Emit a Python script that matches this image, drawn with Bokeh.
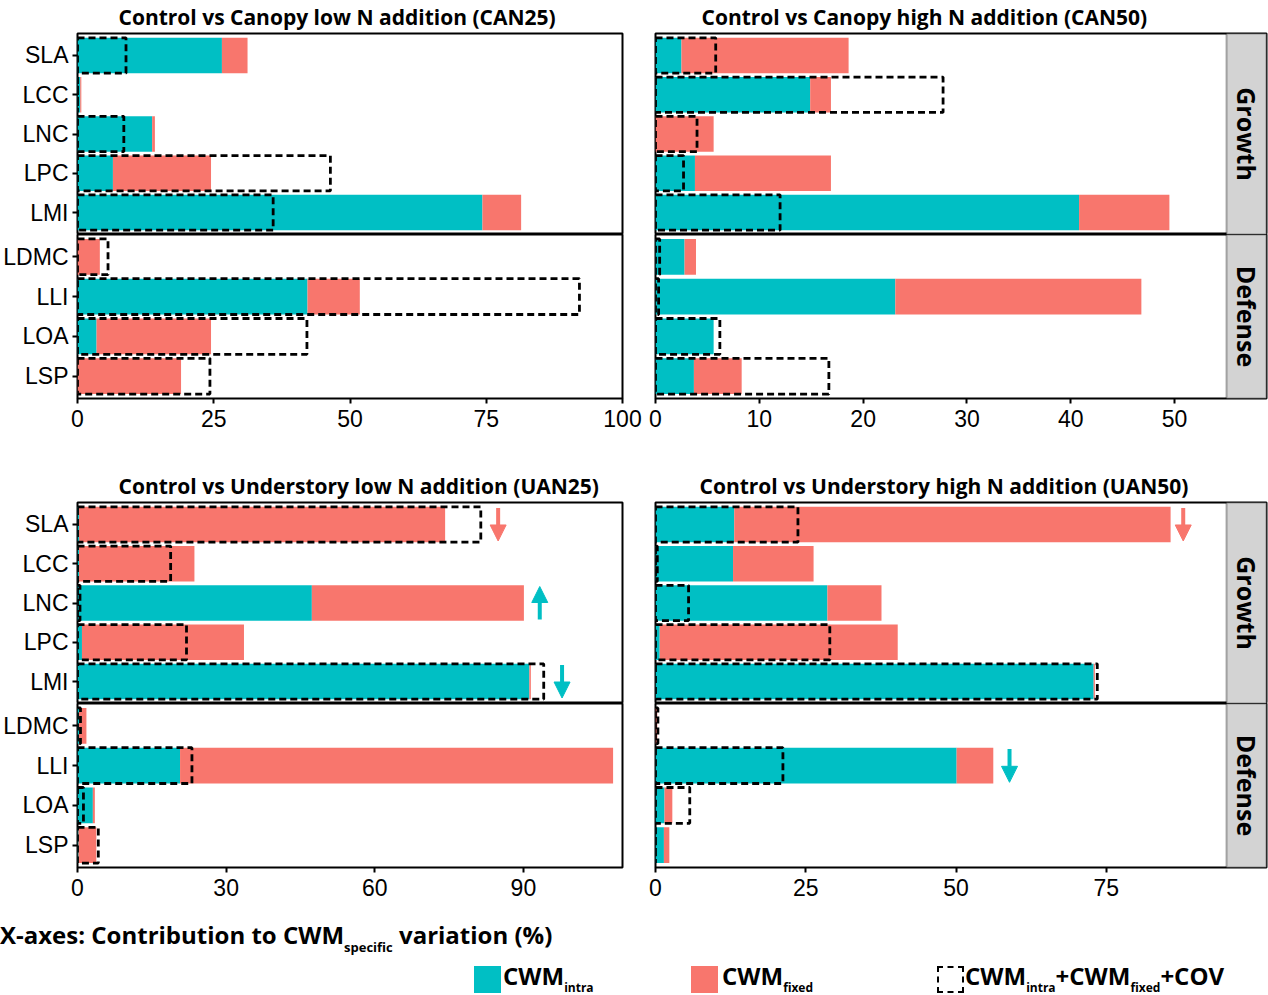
import math
import pandas as pd
from bokeh.plotting import figure
from bokeh.models import (ColumnDataSource, FactorRange, Range1d, FixedTicker,
                          BoxAnnotation, Label, Arrow, NormalHead, Div)
from bokeh.layouts import column, row
from bokeh.transform import dodge
from bokeh.embed import file_html
from bokeh.resources import INLINE

# ---------------- data ----------------
growth_traits = ["SLA", "LCC", "LNC", "LPC", "LMI"]
defense_traits = ["LDMC", "LLI", "LOA", "LSP"]
traits = growth_traits + defense_traits
groups = ["Growth"] * len(growth_traits) + ["Defense"] * len(defense_traits)

panel_keys = ["CAN25", "CAN50", "UAN25", "UAN50"]
panel_titles = ["Control vs Canopy low N addition (CAN25)",
                "Control vs Canopy high N addition (CAN50)",
                "Control vs Understory low N addition (UAN25)",
                "Control vs Understory high N addition (UAN50)"]
x_limits = [100, 55, 110, 95]
x_ticks = [[0, 25, 50, 75, 100], [0, 10, 20, 30, 40, 50], [0, 30, 60, 90], [0, 25, 50, 75]]

# contributions (%) in order: SLA LCC LNC LPC LMI | LDMC LLI LOA LSP
can25_intra = [26.5, 0.5, 13.7, 6.5, 74.3, 0.0, 42.2, 3.5, 0.0]
can25_fixed = [4.7, 0.2, 0.5, 18.0, 7.1, 4.1, 9.6, 21.0, 19.0]
can25_total = [8.9, 0.0, 8.5, 46.4, 35.9, 5.6, 92.1, 42.1, 24.3]

can50_intra = [2.5, 14.9, 0.0, 3.8, 40.8, 2.8, 23.1, 5.6, 3.7]
can50_fixed = [16.1, 2.0, 5.6, 13.1, 8.7, 1.1, 23.7, 0.0, 4.6]
can50_total = [5.8, 27.7, 4.0, 2.7, 12.0, 0.4, 0.3, 6.2, 16.7]

uan25_intra = [0.3, 0.3, 47.3, 0.9, 91.2, 0.3, 20.7, 3.1, 0.2]
uan25_fixed = [73.9, 23.3, 42.8, 32.7, 0.3, 1.5, 87.4, 0.4, 3.6]
uan25_total = [81.4, 18.8, 0.5, 22.0, 94.1, 0.6, 23.1, 1.2, 4.2]

uan50_intra = [13.1, 12.9, 28.6, 0.7, 72.9, 0.0, 50.1, 1.5, 1.4]
uan50_fixed = [72.6, 13.4, 9.0, 39.6, 0.2, 0.3, 6.1, 1.3, 0.9]
uan50_total = [23.7, 0.3, 5.5, 29.0, 73.5, 0.4, 21.2, 5.7, 0.0]

panel_data = {
    "CAN25": (can25_intra, can25_fixed, can25_total),
    "CAN50": (can50_intra, can50_fixed, can50_total),
    "UAN25": (uan25_intra, uan25_fixed, uan25_total),
    "UAN50": (uan50_intra, uan50_fixed, uan50_total),
}

# significant-shift arrows
arrow_panel = ["UAN25", "UAN25", "UAN25", "UAN50", "UAN50"]
arrow_trait = ["SLA", "LNC", "LMI", "SLA", "LLI"]
arrow_x = [84.9, 93.3, 97.8, 87.8, 58.9]
arrow_dir = ["down", "up", "down", "down", "down"]
arrow_series = ["fixed", "intra", "intra", "fixed", "intra"]

series_keys = ["intra", "fixed"]
series_colors = {"intra": "#00BFC4", "fixed": "#F8766D"}
legend_main = ["CWM", "CWM"]
legend_sub = ["intra", "fixed"]
legend_total = [("CWM", "intra"), ("+CWM", "fixed"), ("+COV", "")]
caption_parts = ("X-axes: Contribution to CWM", "specific", " variation (%)")

# ---------------- layout constants ----------------
FW_L, FW_R, STRIP = 545, 571, 40
LB_L, RB_L, LB_R, RB_R = 77, 24, 9, 2
HG, HD, XAX = 201, 164, 36
TOP = [33, 33, 68, 68]
TITLE_OFF = [41, 46, 41, 44]
TICK_FONT = "Liberation Sans"
BOLD_FONT = "Open Sans"


def style_axis(ax, standoff):
    ax.axis_line_color = None
    ax.major_tick_line_color = "black"
    ax.major_tick_line_width = 2
    ax.major_tick_out = 5
    ax.major_tick_in = 0
    ax.minor_tick_line_color = None
    ax.major_label_text_font = TICK_FONT
    ax.major_label_text_font_size = "23px"
    ax.major_label_text_color = "black"
    ax.major_label_standoff = standoff


def make_sub(k, group, xr):
    key = panel_keys[k]
    intra, fixed, total = panel_data[key]
    df = pd.DataFrame({"trait": traits, "group": groups,
                       "intra": intra, "fixed": fixed, "total": total})
    sub = df[df["group"] == group]
    cats = list(sub["trait"])
    left_panel = (k % 2 == 0)
    is_growth = (group == "Growth")
    fh = HG if is_growth else HD
    fw = FW_L if left_panel else FW_R + STRIP
    yr = FactorRange(factors=cats[::-1], range_padding=0.06, range_padding_units="absolute")
    p = figure(frame_width=fw, frame_height=fh, x_range=xr, y_range=yr,
               output_backend="svg", toolbar_location=None,
               x_axis_location=None if is_growth else "below",
               y_axis_location="left" if left_panel else None,
               min_border_left=LB_L if left_panel else LB_R,
               min_border_right=RB_L if left_panel else RB_R,
               min_border_top=TOP[k] if is_growth else 0,
               min_border_bottom=0 if is_growth else XAX)
    p.outline_line_color = "black"
    p.outline_line_width = 2
    p.outline_line_alpha = 1
    p.xgrid.visible = False
    p.ygrid.visible = False
    p.background_fill_color = "white"
    p.border_fill_color = "white"

    src = ColumnDataSource(sub)
    p.hbar_stack(series_keys, y="trait", height=0.9, source=src,
                 fill_color=[series_colors[s] for s in series_keys], line_color=None)
    p.hbar(y="trait", left=0, right="total", height=0.9, source=src,
           fill_color=None, line_color="black", line_width=2.8, line_dash="7 4")

    if not is_growth:
        style_axis(p.xaxis[0], 6)
        p.xaxis[0].ticker = FixedTicker(ticks=x_ticks[k])
    if left_panel:
        style_axis(p.yaxis[0], 4)

    if not left_panel:
        xmax = x_limits[k]
        strip_w = xmax * STRIP / FW_R
        p.add_layout(BoxAnnotation(left=xmax, fill_color="#D3D3D3", fill_alpha=1,
                                   line_color="black", line_width=2))
        p.add_layout(Label(x=xmax + strip_w / 2, y=fh / 2, x_units="data", y_units="screen",
                           text=group, angle=-math.pi / 2, text_align="center",
                           text_baseline="middle", text_font=BOLD_FONT,
                           text_font_style="bold", text_font_size="25px", text_color="black"))

    for ap, at, ax_, ad, aser in zip(arrow_panel, arrow_trait, arrow_x, arrow_dir, arrow_series):
        if ap != key or at not in cats:
            continue
        col = series_colors[aser]
        asrc = ColumnDataSource({"x": [ax_], "trait": [at]})
        s_off, e_off = (0.42, -0.42) if ad == "down" else (-0.42, 0.42)
        p.add_layout(Arrow(end=NormalHead(size=16, fill_color=col, line_color=col, line_width=1),
                           x_start="x", x_end="x",
                           y_start=dodge("trait", s_off, range=yr),
                           y_end=dodge("trait", e_off, range=yr),
                           line_color=col, line_width=4, source=asrc))

    if is_growth:
        p.title.text = panel_titles[k]
        p.title.align = "left"
        p.title.offset = TITLE_OFF[k]
        p.title.vertical_align = "middle"
        p.title.text_font = BOLD_FONT
        p.title.text_font_style = "bold"
        p.title.text_font_size = "21px"
        p.title.text_color = "black"
        p.title.standoff = 3
    return p


def make_panel(k):
    if k % 2 == 0:
        xr = Range1d(0, x_limits[k])
    else:
        xr = Range1d(0, x_limits[k] * (1 + STRIP / FW_R))
    g = make_sub(k, "Growth", xr)
    d = make_sub(k, "Defense", xr)
    return column(g, d, spacing=0)


row1 = row(make_panel(0), make_panel(1), spacing=0)
row2 = row(make_panel(2), make_panel(3), spacing=0)

# caption + legend as HTML text
sq = "position:absolute;top:58px;width:27px;height:27px;box-sizing:border-box;"
txt = "position:absolute;top:56px;line-height:1;white-space:nowrap;"
sub_css = "font-size:12px;position:relative;top:7px;"
leg_html = ""
sq_x = [469, 686]
tx_x = [498, 717]
for i, s in enumerate(series_keys):
    leg_html += f'<span style="{sq}left:{sq_x[i]}px;background:{series_colors[s]};"></span>'
    leg_html += (f'<span style="{txt}left:{tx_x[i]}px;">{legend_main[i]}'
                 f'<span style="{sub_css}">{legend_sub[i]}</span></span>')
leg_html += f'<span style="{sq}left:932px;border:2.5px dashed black;"></span>'
tot = "".join(f'{m}<span style="{sub_css}">{sb}</span>' if sb else m for m, sb in legend_total)
leg_html += f'<span style="{txt}left:960px;">{tot}</span>'

cap_html = (f'<span style="position:absolute;left:-5px;top:15px;line-height:1;white-space:nowrap;'
            f'font-size:24px;">{caption_parts[0]}<span style="font-size:13px;position:relative;top:8px;">'
            f'{caption_parts[1]}</span>{caption_parts[2]}</span>')

bottom = Div(text=(f'<div style="position:relative;width:1260px;height:92px;'
                   f'font-family:\'Open Sans\';font-weight:700;font-size:24px;color:black;">'
                   f'{cap_html}{leg_html}</div>'),
             width=1268, height=95)

page = column(row1, row2, bottom, spacing=0)

with open("out.html", "w") as f:
    f.write(file_html(page, INLINE))
